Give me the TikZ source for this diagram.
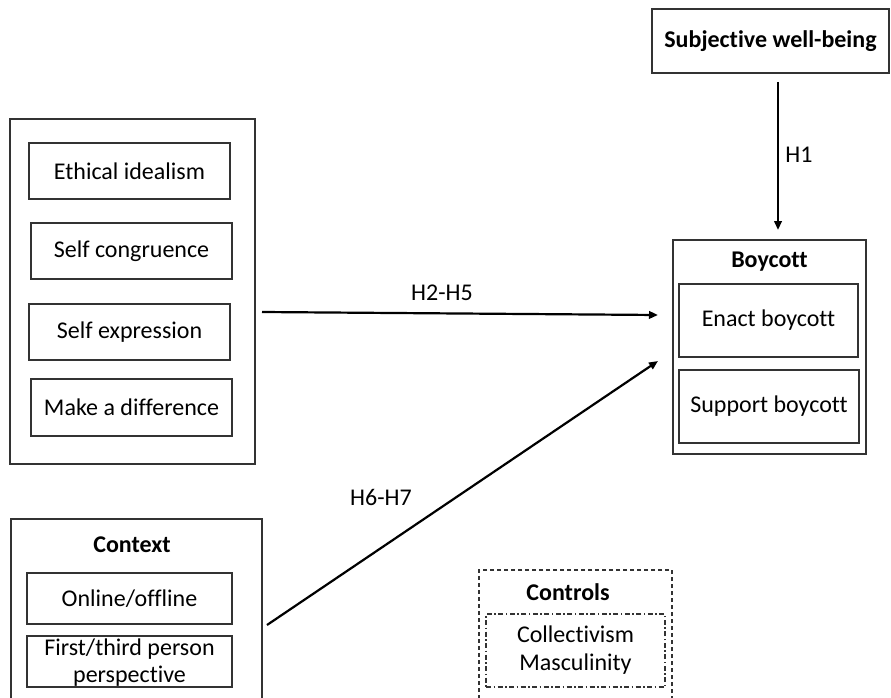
\documentclass[tikz,border=0pt]{standalone}
\usepackage{fontspec}
\setmainfont[Ligatures={NoCommon}]{Carlito}
\usetikzlibrary{arrows.meta}
\begin{document}
\begin{tikzpicture}[x=1pt,y=-1pt,
  box/.style={draw=black!80,line width=1.2pt,rectangle,inner sep=0pt,align=center,
    font=\fontsize{24}{27}\selectfont},
  lbl/.style={inner sep=0pt,align=center,font=\fontsize{24}{28}\selectfont},
  blbl/.style={inner sep=0pt,font=\fontsize{24}{28}\selectfont\bfseries},
  arr/.style={line width=2.2pt,-{Triangle[length=9pt,width=7.5pt]}}]
\clip (0,0) rectangle (891,698);
\fill[white] (0,0) rectangle (891,698);
% Subjective well-being
\node[box,minimum width=237,minimum height=64,font=\fontsize{24}{28}\selectfont\bfseries] (sw) at (770.5,41) {Subjective well-being};
% left block
\node[box,minimum width=245,minimum height=345] (L) at (132.5,291.5) {};
\node[box,minimum width=201,minimum height=56] (ei) at (129.5,171) {Ethical idealism};
\node[box,minimum width=201,minimum height=56] (sc) at (131.5,251) {Self congruence};
\node[box,minimum width=201,minimum height=56] (se) at (129.5,332) {Self expression};
\node[box,minimum width=201,minimum height=57] (md) at (131.5,407.5) {Make a difference};
% Boycott
\node[box,minimum width=193,minimum height=214] (B) at (769.5,347) {};
\node[blbl] (Bl) at (769.5,262) {Boycott};
\node[box,minimum width=179,minimum height=73] (en) at (768.5,320.5) {Enact boycott};
\node[box,minimum width=180,minimum height=73] (su) at (769,406.5) {Support boycott};
% Context
\node[box,minimum width=251,minimum height=200] (C) at (136.5,619) {};
\node[blbl] (Cl) at (132,545) {Context};
\node[box,minimum width=205,minimum height=51] (on) at (129.5,598.5) {Online/offline};
\node[box,minimum width=205,minimum height=51] (fp) at (129.5,661.5) {};
\node[lbl,font=\fontsize{24}{27}\selectfont] (fpt) at (129.5,663) {First/third person\\perspective};
% Controls
\node[draw=black!80,line width=1.2pt,dash pattern=on 4pt off 3pt,rectangle,minimum width=193,minimum height=140,inner sep=0pt] (K) at (575.5,640) {};
\node[blbl] (Kl) at (568,592) {Controls};
\node[draw=black!80,line width=1.2pt,dash pattern=on 5pt off 2.5pt on 1.5pt off 2.5pt,rectangle,minimum width=179,minimum height=73,inner sep=0pt,align=center,font=\fontsize{24}{28}\selectfont] (ct) at (575.5,650.5) {Collectivism\\Masculinity};
% arrows
\coordinate (h1s) at (778,82);
\coordinate (h1e) at (778,230);
\coordinate (h2s) at (262,312);
\coordinate (h2e) at (658,315);
\coordinate (h6s) at (267,625);
\coordinate (h6e) at (658,361);
\draw[arr] (h1s) -- (h1e);
\draw[arr] (h2s) -- (h2e);
\draw[arr] (h6s) -- (h6e);
\node[lbl] (H1) at (799,155) {H1};
\node[lbl] (H2) at (442,293) {H2-H5};
\node[lbl] (H6) at (381,497) {H6-H7};
\end{tikzpicture}
\end{document}
